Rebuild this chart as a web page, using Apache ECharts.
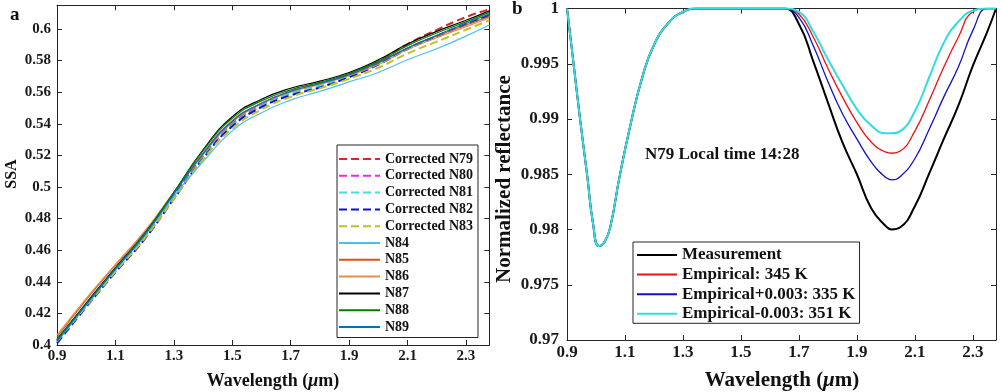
<!DOCTYPE html>
<html>
<head>
<meta charset="utf-8">
<script src="https://cdn.jsdelivr.net/npm/echarts@6/dist/echarts.min.js"></script>
<style>
html,body{margin:0;padding:0;background:#fff;}
#chart{width:1000px;height:392px;}
</style>
</head>
<body>
<div id="chart"></div>
<script>
// ---------- Panel a: SSA ----------
const wavelengthA = [0.9, 1.0, 1.1, 1.2, 1.3, 1.4, 1.5, 1.6, 1.7, 1.8, 1.9, 2.0, 2.1, 2.2, 2.3, 2.38];
const corrN79 = [0.403, 0.4255, 0.4475, 0.4685, 0.4945, 0.520, 0.5405, 0.5525, 0.5603, 0.5655, 0.5715, 0.5795, 0.5905, 0.5995, 0.6075, 0.6125];
const corrN80 = [0.4025, 0.425, 0.447, 0.468, 0.4935, 0.519, 0.5395, 0.5515, 0.5595, 0.5648, 0.5705, 0.578, 0.5875, 0.5955, 0.6035, 0.609];
const corrN81 = [0.402, 0.4245, 0.4465, 0.4675, 0.493, 0.5185, 0.539, 0.551, 0.559, 0.564, 0.570, 0.5775, 0.587, 0.595, 0.6025, 0.608];
const corrN82 = [0.401, 0.424, 0.446, 0.467, 0.4925, 0.518, 0.5385, 0.5505, 0.558, 0.563, 0.5695, 0.5775, 0.5875, 0.5955, 0.603, 0.6085];
const corrN83 = [0.4025, 0.4245, 0.4465, 0.4675, 0.4925, 0.5175, 0.537, 0.549, 0.557, 0.5625, 0.5685, 0.5755, 0.5845, 0.592, 0.5995, 0.6055];
const n84 = [0.402, 0.425, 0.4475, 0.469, 0.494, 0.516, 0.5355, 0.547, 0.555, 0.5605, 0.5665, 0.5725, 0.5805, 0.5875, 0.5955, 0.6025];
const n85 = [0.405, 0.4285, 0.4505, 0.4715, 0.4965, 0.5215, 0.542, 0.553, 0.5605, 0.5655, 0.5715, 0.579, 0.588, 0.5955, 0.6025, 0.608];
const n86 = [0.4062, 0.4295, 0.451, 0.472, 0.4968, 0.5205, 0.541, 0.5525, 0.560, 0.565, 0.5705, 0.5775, 0.587, 0.5945, 0.6015, 0.607];
const n87 = [0.4035, 0.4265, 0.449, 0.4705, 0.4965, 0.5235, 0.5445, 0.5555, 0.5625, 0.567, 0.5725, 0.5805, 0.5905, 0.5985, 0.6055, 0.6115];
const n88 = [0.4035, 0.426, 0.4485, 0.4705, 0.4965, 0.523, 0.5435, 0.5545, 0.5615, 0.5662, 0.5718, 0.5795, 0.5895, 0.5975, 0.6045, 0.6105];
const n89 = [0.4025, 0.4255, 0.448, 0.4695, 0.4955, 0.521, 0.5415, 0.553, 0.5605, 0.5655, 0.571, 0.5785, 0.588, 0.596, 0.6035, 0.6095];

// ---------- Panel b: normalized reflectance ----------
const wavelengthB = [0.9, 0.92, 0.945, 0.97, 0.99, 1.01, 1.03, 1.05, 1.08, 1.12, 1.16, 1.2, 1.25, 1.3, 1.35, 1.4, 1.5, 1.6,
                     1.65, 1.7, 1.75, 1.8, 1.85, 1.9, 1.95, 2.0, 2.02, 2.05, 2.1, 2.15, 2.2, 2.25, 2.3, 2.35, 2.38];
const sharedDip = [1.0, 0.9956, 0.990, 0.9848, 0.9805, 0.9785, 0.9789, 0.9803, 0.9846, 0.9896, 0.9938, 0.9967, 0.9987, 0.9997, 1.0, 1.0, 1.0, 1.0];
const measTail = [1.0, 0.9986, 0.9952, 0.9915, 0.9879, 0.985, 0.9819, 0.9803, 0.980, 0.9802, 0.9821, 0.9851, 0.9882, 0.9912, 0.9948, 0.9979, 1.0];
const empTail = [1.0, 0.9995, 0.9974, 0.9946, 0.992, 0.9897, 0.9879, 0.987, 0.9869, 0.9871, 0.9889, 0.9917, 0.9947, 0.9974, 0.9997, 1.0, 1.0];
const empPlusTail = [1.0, 0.9992, 0.9966, 0.9934, 0.9905, 0.9882, 0.9861, 0.9847, 0.9845, 0.9848, 0.9864, 0.9891, 0.992, 0.9947, 0.998, 1.0, 1.0];
const empMinusTail = [1.0, 0.9997, 0.9979, 0.9954, 0.9931, 0.9909, 0.9894, 0.9887, 0.9887, 0.9889, 0.9907, 0.9938, 0.9969, 0.9988, 0.9998, 1.0, 1.0];

// ---------- ticks ----------
const xTicks = [0.9, 1.1, 1.3, 1.5, 1.7, 1.9, 2.1, 2.3];
const ssaTicks = [0.4, 0.42, 0.44, 0.46, 0.48, 0.5, 0.52, 0.54, 0.56, 0.58, 0.6];
const reflTicks = [0.97, 0.975, 0.98, 0.985, 0.99, 0.995, 1];

const FONT = 'Liberation Serif';
const AX = '#262626';
function pairs(xs, ys) { return xs.map((x, i) => [x, ys[i]]); }
function fmt(v) { return String(+(+v).toFixed(4)); }

function axisBase(gridIndex, min, max, ticks, pos, showLabel, fontSize, margin) {
  return {
    type: 'value', gridIndex, min, max, position: pos,
    splitLine: { show: false },
    axisLine: { show: true, onZero: false, lineStyle: { color: AX, width: 1 } },
    axisTick: { show: true, inside: true, length: 5, customValues: ticks, lineStyle: { color: AX, width: 1 } },
    axisLabel: { show: showLabel, customValues: ticks, formatter: fmt, fontFamily: FONT, fontWeight: 'bold',
                 fontSize, color: '#1a1a1a', margin },
    minorTick: { show: false }
  };
}

const seriesA = [
  ['Corrected N79', corrN79, '#d62828', 'dashed', 2],
  ['Corrected N80', corrN80, '#e030e0', 'dashed', 2],
  ['Corrected N81', corrN81, '#40e0e0', 'dashed', 2],
  ['Corrected N82', corrN82, '#1010d0', 'dashed', 2],
  ['Corrected N83', corrN83, '#c4c020', 'dashed', 2],
  ['N84', n84, '#4DBEEE', 'solid', 1.2],
  ['N85', n85, '#D95319', 'solid', 1.2],
  ['N86', n86, '#E8904A', 'solid', 1.2],
  ['N87', n87, '#000000', 'solid', 1.2],
  ['N88', n88, '#008000', 'solid', 1.2],
  ['N89', n89, '#0072BD', 'solid', 1.2]
].map(([name, ys, color, type, width]) => ({
  name, type: 'line', xAxisIndex: 0, yAxisIndex: 0, data: pairs(wavelengthA, ys),
  smooth: 0.5, showSymbol: false, symbol: 'none', color,
  lineStyle: { color, type, width }, itemStyle: { color }, animation: false
}));

const seriesB = [
  ['Measurement', measTail, '#000000', 2],
  ['Empirical: 345 K', empTail, '#ee1111', 1.3],
  ['Empirical+0.003: 335 K', empPlusTail, '#1010c8', 1.3],
  ['Empirical-0.003: 351 K', empMinusTail, '#33dddd', 2]
].map(([name, tail, color, width]) => ({
  name, type: 'line', xAxisIndex: 2, yAxisIndex: 2, data: pairs(wavelengthB, sharedDip.concat(tail)),
  smooth: 0.5, showSymbol: false, symbol: 'none', color,
  lineStyle: { color, width }, itemStyle: { color }, animation: false
}));

const chart = echarts.init(document.getElementById('chart'), null, { renderer: 'canvas' });
chart.setOption({
  animation: false,
  backgroundColor: '#ffffff',
  grid: [
    { left: 57, top: 5.3, width: 432.3, height: 339.7 },
    { left: 567, top: 5, width: 429, height: 335 }
  ],
  xAxis: [
    axisBase(0, 0.9, 2.38, xTicks, 'bottom', true, 15, 4),
    axisBase(0, 0.9, 2.38, xTicks, 'top', false, 15, 4),
    axisBase(1, 0.9, 2.38, xTicks, 'bottom', true, 17, 4),
    axisBase(1, 0.9, 2.38, xTicks, 'top', false, 17, 4)
  ],
  yAxis: [
    axisBase(0, 0.4, 0.615, ssaTicks, 'left', true, 15, 6),
    axisBase(0, 0.4, 0.615, ssaTicks, 'right', false, 15, 6),
    axisBase(1, 0.97, 1, reflTicks, 'left', true, 17, 8),
    axisBase(1, 0.97, 1, reflTicks, 'right', false, 17, 8)
  ],
  legend: [
    {
      data: seriesA.map(s => s.name), orient: 'vertical', left: 337, top: 145,
      itemWidth: 41, itemHeight: 14, itemGap: 2.8, padding: [7, 5, 3.5, 1],
      borderColor: AX, borderWidth: 1, backgroundColor: '#fff',
      itemStyle: { opacity: 0 },
      textStyle: { fontFamily: FONT, fontWeight: 'bold', fontSize: 14, color: '#111', lineHeight: 14 },
      selectedMode: false
    },
    {
      data: seriesB.map(s => s.name), orient: 'vertical', left: 633, top: 242,
      itemWidth: 40, itemHeight: 16, itemGap: 2.6, padding: [4.5, 4, 1, 3],
      borderColor: AX, borderWidth: 1, backgroundColor: '#fff',
      itemStyle: { opacity: 0 },
      textStyle: { fontFamily: FONT, fontWeight: 'bold', fontSize: 17, color: '#111', lineHeight: 17 },
      selectedMode: false
    }
  ],
  graphic: [
    { type: 'text', left: 10, top: 6, style: { text: 'a', font: 'bold 19px "Liberation Serif"', fill: '#111' } },
    { type: 'text', left: 512, top: 0, style: { text: 'b', font: 'bold 19px "Liberation Serif"', fill: '#111' } },
    { type: 'text', x: 273, y: 381, style: { text: 'Wavelength ({i|μ}m)', font: 'bold 18px "Liberation Serif"', fill: '#111',
        align: 'center', verticalAlign: 'middle', rich: { i: { fontStyle: 'italic', fontWeight: 'bold', fontSize: 18, fontFamily: FONT } } } },
    { type: 'text', x: 782, y: 381, style: { text: 'Wavelength ({i|μ}m)', font: 'bold 21px "Liberation Serif"', fill: '#111',
        align: 'center', verticalAlign: 'middle', rich: { i: { fontStyle: 'italic', fontWeight: 'bold', fontSize: 21, fontFamily: FONT } } } },
    { type: 'text', x: 12, y: 174, rotation: Math.PI / 2, style: { text: 'SSA', font: 'bold 16px "Liberation Serif"', fill: '#111',
        align: 'center', verticalAlign: 'middle' } },
    { type: 'text', x: 505, y: 179, rotation: Math.PI / 2, style: { text: 'Normalized reflectance', font: 'bold 21px "Liberation Serif"', fill: '#111',
        align: 'center', verticalAlign: 'middle' } },
    { type: 'text', x: 645, y: 155, style: { text: 'N79 Local time 14:28', font: 'bold 17px "Liberation Serif"', fill: '#111',
        align: 'left', verticalAlign: 'middle' } }
  ],
  series: seriesA.concat(seriesB)
});
</script>
</body>
</html>
